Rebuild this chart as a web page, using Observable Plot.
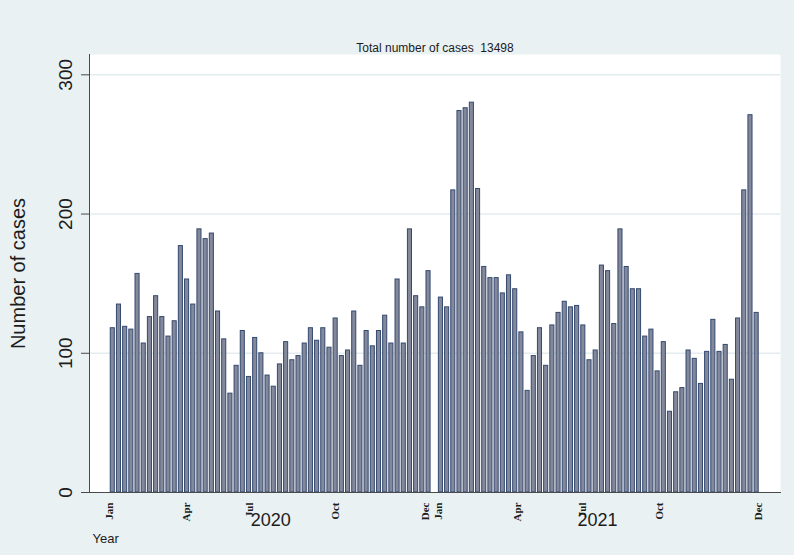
<!DOCTYPE html>
<html>
<head>
<meta charset="utf-8">
<script src="https://cdn.jsdelivr.net/npm/d3@7"></script>
<script src="https://cdn.jsdelivr.net/npm/@observablehq/plot@0.6"></script>
<style>
  html, body { margin: 0; padding: 0; background: #e9f1f3; }
</style>
</head>
<body>
<div id="chart"></div>
<script>
// Weekly case counts
const cases2020 = [118,135,119,117,157,107,126,141,126,112,123,177,153,135,189,182,186,130,110,71,91,116,83,111,100,84,76,92,108,95,98,107,118,109,118,104,125,98,102,130,91,116,105,116,127,107,153,107,189,141,133,159];
const cases2021 = [140,133,217,274,276,280,218,162,154,154,143,156,146,115,73,98,118,91,120,129,137,133,134,120,95,102,163,159,121,189,162,146,146,112,117,87,108,58,72,75,102,96,78,101,124,101,106,81,125,217,271,129];
const yearOffsets = [0, 53];          // week slot where each year starts (one empty slot between)
const monthLabels = ["Jan","Apr","Jul","Oct","Dec","Jan","Apr","Jul","Oct","Dec"];
const monthSlots  = [0, 12.55, 22.7, 36.5, 51, 53.1, 65.9, 76.5, 88.8, 104.9];
const yearLabels = ["2020", "2021"];
const yearSlots  = [25.5, 78.3];
const yTicks = [0, 100, 200, 300];
const titleText = "Total number of cases  13498";
const yLabel = "Number of cases";
const xLabel = "Year";

const data = [
  ...cases2020.map((v, i) => ({slot: yearOffsets[0] + i, cases: v})),
  ...cases2021.map((v, i) => ({slot: yearOffsets[1] + i, cases: v}))
];
const months = monthLabels.map((m, i) => ({label: m, slot: monthSlots[i]}));
const years = yearLabels.map((y, i) => ({label: y, slot: yearSlots[i]}));

const bg = "#e9f1f3";
const axisColor = "#4a4a4a";
const textColor = "#1c1c1c";

const chart = Plot.plot({
  width: 794,
  height: 555,
  marginLeft: 89,
  marginRight: 14,
  marginTop: 54,
  marginBottom: 63,
  style: {background: bg, fontFamily: "'Liberation Sans', Arial, sans-serif", color: textColor},
  x: {type: "linear", domain: [-3.76, 107.85], axis: null},
  y: {domain: [0, 314.6], axis: null},
  marks: [
    Plot.frame({fill: "white", stroke: null}),
    Plot.ruleY(yTicks.filter(d => d > 0), {stroke: "#e3ecef", strokeWidth: 1.5}),
    Plot.rectY(data, {
      x1: d => d.slot - 0.33,
      x2: d => d.slot + 0.33,
      y: "cases",
      fill: "#83889b",
      stroke: "#34496f",
      strokeWidth: 1
    }),
    Plot.frame({anchor: "left", stroke: axisColor}),
    Plot.frame({anchor: "bottom", stroke: axisColor}),
    Plot.axisY({ticks: yTicks, tickSize: 8, tickFormat: () => "", label: null, stroke: axisColor}),
    Plot.text(yTicks, {
      y: d => d, text: d => String(d), frameAnchor: "left", dx: -24,
      rotate: -90, textAnchor: "middle", fontSize: 19, fill: textColor
    }),
    Plot.text([yLabel], {
      frameAnchor: "left", dx: -71, rotate: -90, textAnchor: "middle",
      fontSize: 20, fill: textColor
    }),
    Plot.text(months, {
      x: "slot", text: "label", frameAnchor: "bottom", dy: 10,
      rotate: -90, textAnchor: "end", fontSize: 11, fontWeight: "bold",
      fontFamily: "'Liberation Serif', 'Times New Roman', serif", fill: textColor
    }),
    Plot.text(years, {
      x: "slot", text: "label", frameAnchor: "bottom", dy: 33,
      fontSize: 18, fontFamily: "'Liberation Sans Narrow', 'Arial Narrow', sans-serif", fill: textColor
    }),
    Plot.text([xLabel], {
      frameAnchor: "bottom-left", dx: 3, dy: 50, textAnchor: "start",
      fontSize: 13, fontFamily: "'Liberation Sans Narrow', 'Arial Narrow', sans-serif", fill: textColor
    }),
    Plot.text([titleText], {
      frameAnchor: "top", dy: -11, fontSize: 12,
      fontFamily: "'Liberation Sans Narrow', 'Arial Narrow', sans-serif", fill: textColor
    })
  ]
});
document.getElementById("chart").appendChild(chart);
</script>
</body>
</html>
